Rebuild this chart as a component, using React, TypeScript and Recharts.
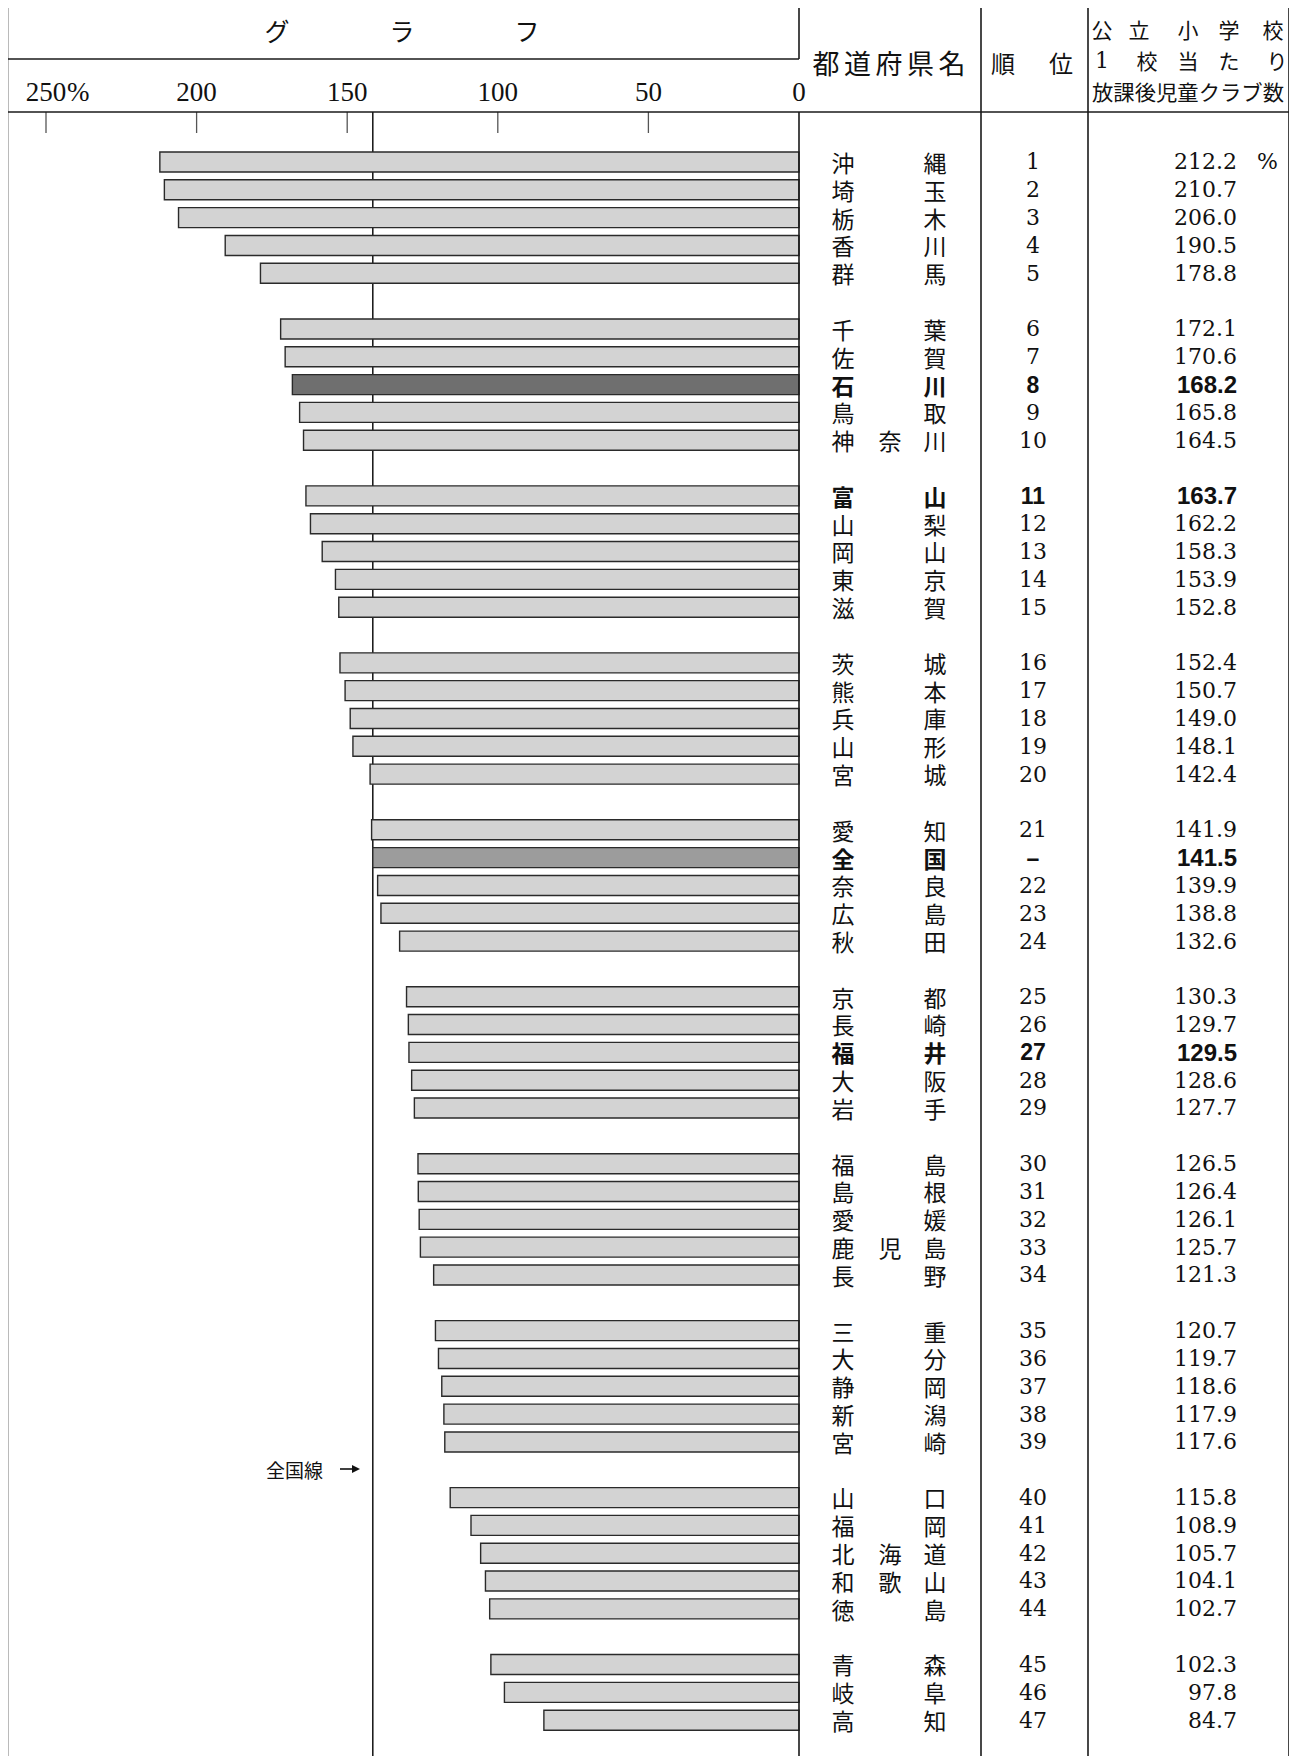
import { BarChart, Bar, XAxis, YAxis, Cell, ReferenceLine } from "recharts"

// 公立小学校1校当たり放課後児童クラブ数（都道府県別ランキング）
const prefectures = [
  "沖縄", "埼玉", "栃木", "香川", "群馬",
  "千葉", "佐賀", "石川", "鳥取", "神奈川",
  "富山", "山梨", "岡山", "東京", "滋賀",
  "茨城", "熊本", "兵庫", "山形", "宮城",
  "愛知", "全国", "奈良", "広島", "秋田",
  "京都", "長崎", "福井", "大阪", "岩手",
  "福島", "島根", "愛媛", "鹿児島", "長野",
  "三重", "大分", "静岡", "新潟", "宮崎",
  "山口", "福岡", "北海道", "和歌山", "徳島",
  "青森", "岐阜", "高知",
]

const ranks = [
  "1", "2", "3", "4", "5",
  "6", "7", "8", "9", "10",
  "11", "12", "13", "14", "15",
  "16", "17", "18", "19", "20",
  "21", "–", "22", "23", "24",
  "25", "26", "27", "28", "29",
  "30", "31", "32", "33", "34",
  "35", "36", "37", "38", "39",
  "40", "41", "42", "43", "44",
  "45", "46", "47",
]

const clubsPerSchool = [
  212.2, 210.7, 206.0, 190.5, 178.8,
  172.1, 170.6, 168.2, 165.8, 164.5,
  163.7, 162.2, 158.3, 153.9, 152.8,
  152.4, 150.7, 149.0, 148.1, 142.4,
  141.9, 141.5, 139.9, 138.8, 132.6,
  130.3, 129.7, 129.5, 128.6, 127.7,
  126.5, 126.4, 126.1, 125.7, 121.3,
  120.7, 119.7, 118.6, 117.9, 117.6,
  115.8, 108.9, 105.7, 104.1, 102.7,
  102.3, 97.8, 84.7,
]

const axisTicks = [0, 50, 100, 150, 200, 250]
const boldRows = ["石川", "富山", "福井", "全国"]
const nationalName = "全国"
const highlightName = "石川"
const nationalValue = 141.5

// 5件ごとに空行を挟む
type Row = { key: string; name?: string; rank?: string; value: number | null; label?: string }
const rows: Row[] = []
prefectures.forEach((name, i) => {
  if (i > 0 && i % 5 === 0) rows.push({ key: `gap${i}`, value: null })
  rows.push({ key: name, name, rank: ranks[i], value: clubsPerSchool[i], label: clubsPerSchool[i].toFixed(1) })
})
const rowByKey: Record<string, Row> = {}
rows.forEach((r) => (rowByKey[r.key] = r))

const JP = "'Noto Sans CJK JP', sans-serif"
const SERIF = "'DejaVu Serif', serif"
const AXIS_SERIF = "'Liberation Serif', serif"
const BOLD_NUM = "'Liberation Sans', Arial, sans-serif"
const LINE = "#1a1a1a"

function barFill(name?: string) {
  if (name === highlightName) return "#6f6f6f"
  if (name === nationalName) return "#9c9c9c"
  return "#d3d3d3"
}

function AxisTick(props: any) {
  const { x, payload } = props
  const v = payload.value
  return (
    <g>
      <text x={x} y={101} textAnchor="middle" fontFamily={AXIS_SERIF} fontSize={27} fill="#111">
        {v}
      </text>
      {v === 250 && (
        <text x={x + 21} y={101} fontFamily={AXIS_SERIF} fontSize={27} fill="#111">
          %
        </text>
      )}
      {v !== 0 && <line x1={x} x2={x} y1={112} y2={133} stroke="#555" strokeWidth={1.3} />}
    </g>
  )
}

function RowTick(props: any) {
  const { y, payload } = props
  const row = rowByKey[payload.value]
  if (!row || row.value == null || !row.name) return <g />
  const bold = boldRows.includes(row.name)
  const chars = [...row.name]
  const xs = chars.length === 3 ? [843, 890, 935] : [843, 935]
  const cy = y
  return (
    <g>
      {chars.map((c, i) => (
        <text
          key={i}
          x={xs[i]}
          y={cy}
          textAnchor="middle"
          dominantBaseline="central"
          fontFamily={JP}
          fontWeight={bold ? 700 : 400}
          fontSize={23}
          fill="#111"
        >
          {c}
        </text>
      ))}
      <text
        x={1033}
        y={cy}
        textAnchor="middle"
        dominantBaseline="central"
        fontFamily={bold ? BOLD_NUM : SERIF}
        fontWeight={bold ? 700 : 400}
        fontSize={bold ? 23 : 22}
        fill="#111"
      >
        {row.rank}
      </text>
      <text
        x={1237}
        y={cy}
        textAnchor="end"
        dominantBaseline="central"
        fontFamily={bold ? BOLD_NUM : SERIF}
        fontWeight={bold ? 700 : 400}
        fontSize={bold ? 24 : 22}
        fill="#111"
      >
        {row.label}
      </text>
      {row.rank === "1" && (
        <text x={1257} y={cy} dominantBaseline="central" fontFamily={SERIF} fontSize={22} fill="#111">
          %
        </text>
      )}
    </g>
  )
}

function Frame() {
  const l = (x1: number, y1: number, x2: number, y2: number, k: string) => (
    <line key={k} x1={x1} y1={y1} x2={x2} y2={y2} stroke={LINE} strokeWidth={1.6} />
  )
  const jp = { fontFamily: JP, fill: "#111", dominantBaseline: "central" as const, textAnchor: "middle" as const }
  return (
    <svg width={1297} height={1764} style={{ position: "absolute", left: 0, top: 0, pointerEvents: "none" }}>
      {l(7.5, 5.5, 1289, 5.5, "top")}
      {l(7.5, 5, 7.5, 1764, "left")}
      {l(1289, 5, 1289, 1764, "right")}
      {l(7.5, 112, 1289, 112, "hb")}
      {l(7.5, 59, 799, 59, "gt")}
      {l(799, 5, 799, 59, "g1")}
      {l(799, 112, 799, 1764, "g2")}
      {l(981, 5, 981, 1764, "c1")}
      {l(1088, 5, 1088, 1764, "c2")}

      <text x={277} y={30} fontSize={25} {...jp}>グ</text>
      <text x={402} y={30} fontSize={25} {...jp}>ラ</text>
      <text x={527} y={30} fontSize={25} {...jp}>フ</text>

      <text x={889} y={62} fontSize={27} textLength={153} lengthAdjust="spacing" {...jp}>都道府県名</text>
      <text x={1003} y={62} fontSize={24} {...jp}>順</text>
      <text x={1061} y={62} fontSize={24} {...jp}>位</text>

      {["公", "立", "小", "学", "校"].map((c, i) => (
        <text key={c} x={[1102, 1139, 1188, 1229, 1273][i]} y={29} fontSize={21} {...jp}>{c}</text>
      ))}
      <text x={1102} y={60} fontSize={22} fontFamily={SERIF} fill="#111" textAnchor="middle" dominantBaseline="central">1</text>
      {["校", "当", "た", "り"].map((c, i) => (
        <text key={c} x={[1147, 1188, 1229, 1277][i]} y={60} fontSize={21} {...jp}>{c}</text>
      ))}
      <text x={1188} y={91} fontSize={21} textLength={192} lengthAdjust="spacingAndGlyphs" {...jp}>放課後児童クラブ数</text>

      <text x={266} y={1469} fontSize={19} fontFamily={JP} fill="#111" dominantBaseline="central">全国線</text>
      <line x1={340} y1={1469} x2={354} y2={1469} stroke="#111" strokeWidth={1.6} />
      <path d="M352,1465 L360,1469 L352,1473 Z" fill="#111" />
    </svg>
  )
}

export default function App() {
  return (
    <div style={{ position: "relative", width: 1297, height: 1764, margin: -8, background: "#fff" }}>
      <BarChart
        width={1297}
        height={1764}
        data={rows}
        layout="vertical"
        margin={{ top: 112, right: 0, bottom: 30, left: 46 }}
      >
        <XAxis
          type="number"
          domain={[0, 250]}
          reversed
          orientation="top"
          ticks={axisTicks}
          interval={0}
          axisLine={false}
          tickLine={false}
          height={36}
          tick={AxisTick}
        />
        <YAxis
          type="category"
          dataKey="key"
          orientation="right"
          width={498}
          axisLine={false}
          tickLine={false}
          interval={0}
          tick={RowTick}
        />
        <ReferenceLine
          x={nationalValue}
          zIndex={-1}
          shape={(p: any) => <line x1={p.x1} x2={p.x2} y1={112} y2={1764} stroke="#111" strokeWidth={1.5} />}
        />
        <Bar dataKey="value" barSize={20} isAnimationActive={false}>
          {rows.map((r) => (
            <Cell
              key={r.key}
              fill={barFill(r.name)}
              stroke={r.value == null ? "none" : "#2a2a2a"}
              strokeWidth={1.4}
            />
          ))}
        </Bar>
      </BarChart>
      <Frame />
    </div>
  )
}
